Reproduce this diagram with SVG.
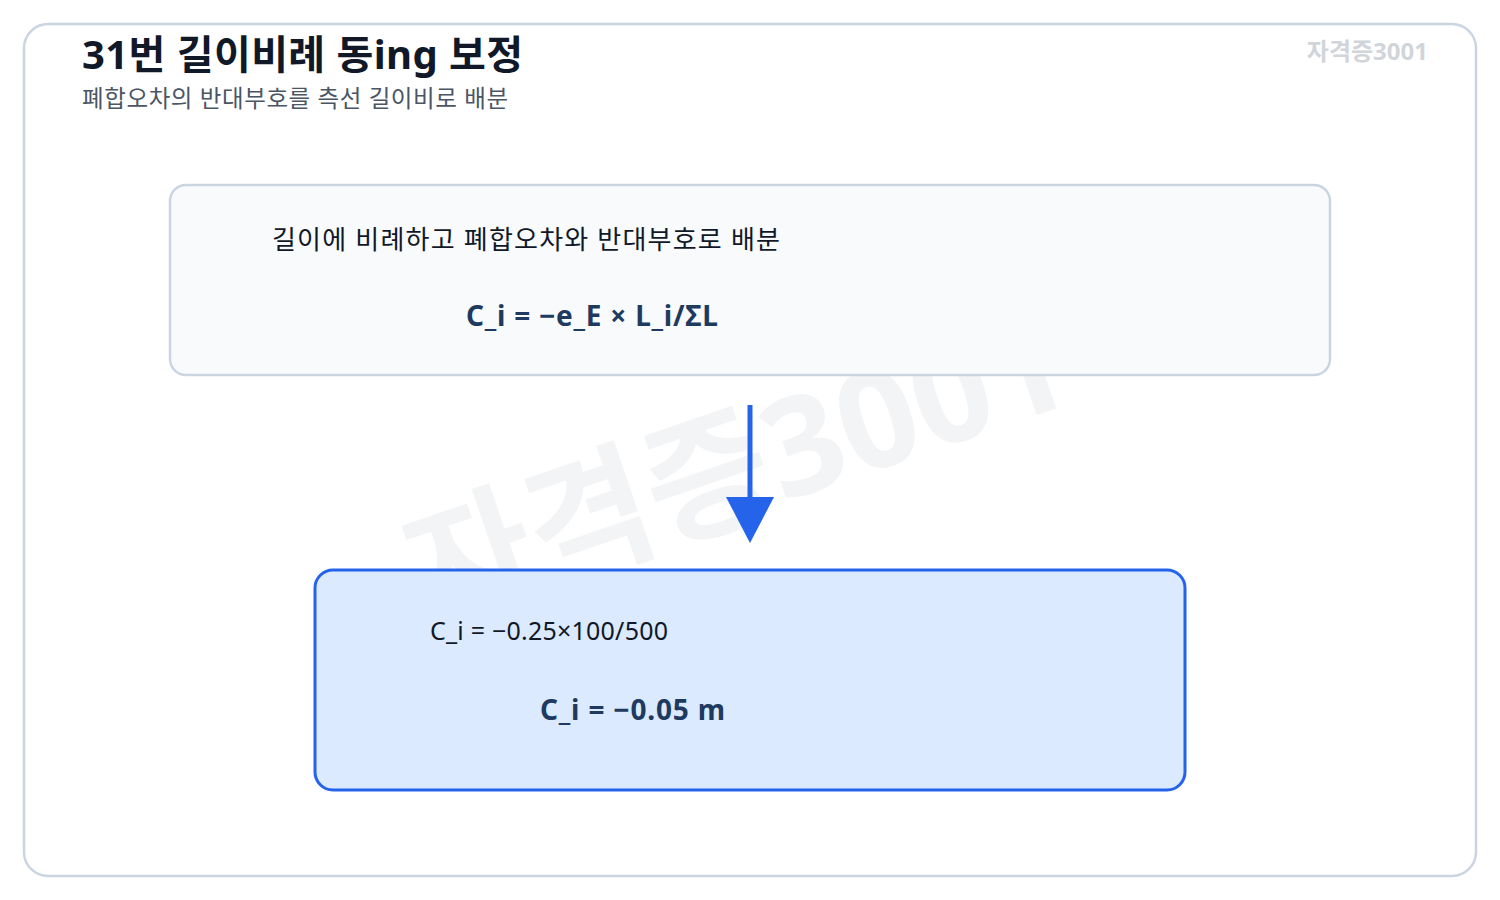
<svg xmlns="http://www.w3.org/2000/svg" width="1500" height="900" viewBox="0 0 1500 900">
<style>
text{font-family:"Noto Sans","Noto Sans CJK KR",sans-serif}
.title{font-size:40px;font-weight:700;fill:#111827}
.sub{font-size:23.5px;fill:#4b5563}
.brand{font-size:24px;font-weight:700;fill:#d1d5db}
.wm{font-size:136px;font-weight:700;fill:#e5e7eb;opacity:0.45}
.body{font-size:26px;fill:#111827}
.eq{font-size:28px;font-weight:700;fill:#1e3a5f}
.conn{stroke:#2563eb;stroke-width:5;fill:none}
</style>
<rect x="24" y="24" width="1452" height="852" rx="24" fill="#ffffff" stroke="#cbd5e1" stroke-width="2.5"/>
<text class="wm" x="752" y="513" text-anchor="middle" transform="rotate(-19 752 513)">자격증3001</text>
<g id="header">
<text class="title" x="82" y="69" textLength="441" lengthAdjust="spacing">31번 길이비례 동ing 보정</text>
<text class="sub" x="82" y="107" textLength="426" lengthAdjust="spacing">폐합오차의 반대부호를 측선 길이비로 배분</text>
<text class="brand" x="1428" y="60" text-anchor="end">자격증3001</text>
</g>
<g id="node-rule">
<rect x="170" y="185" width="1160" height="190" rx="16" fill="#f8fafc" stroke="#cbd5e1" stroke-width="2.5"/>
<text class="body" x="272" y="249" textLength="508" lengthAdjust="spacing">길이에 비례하고 폐합오차와 반대부호로 배분</text>
<text class="eq" x="466" y="326" textLength="252" lengthAdjust="spacing">C_i = −e_E × L_i/ΣL</text>
</g>
<g id="connectors">
<line class="conn" x1="750" y1="405" x2="750" y2="500"/>
<path d="M726,497 L774,497 L750,543 z" fill="#2563eb"/>
</g>
<g id="node-result">
<rect x="315" y="570" width="870" height="220" rx="18" fill="#dbeafe" stroke="#2563eb" stroke-width="3"/>
<text class="body" x="430" y="640" fill="#1f2937" style="font-size:25px" textLength="238" lengthAdjust="spacing">C_i = −0.25×100/500</text>
<text class="eq" x="540" y="720" textLength="185" lengthAdjust="spacing">C_i = −0.05 m</text>
</g>
</svg>
